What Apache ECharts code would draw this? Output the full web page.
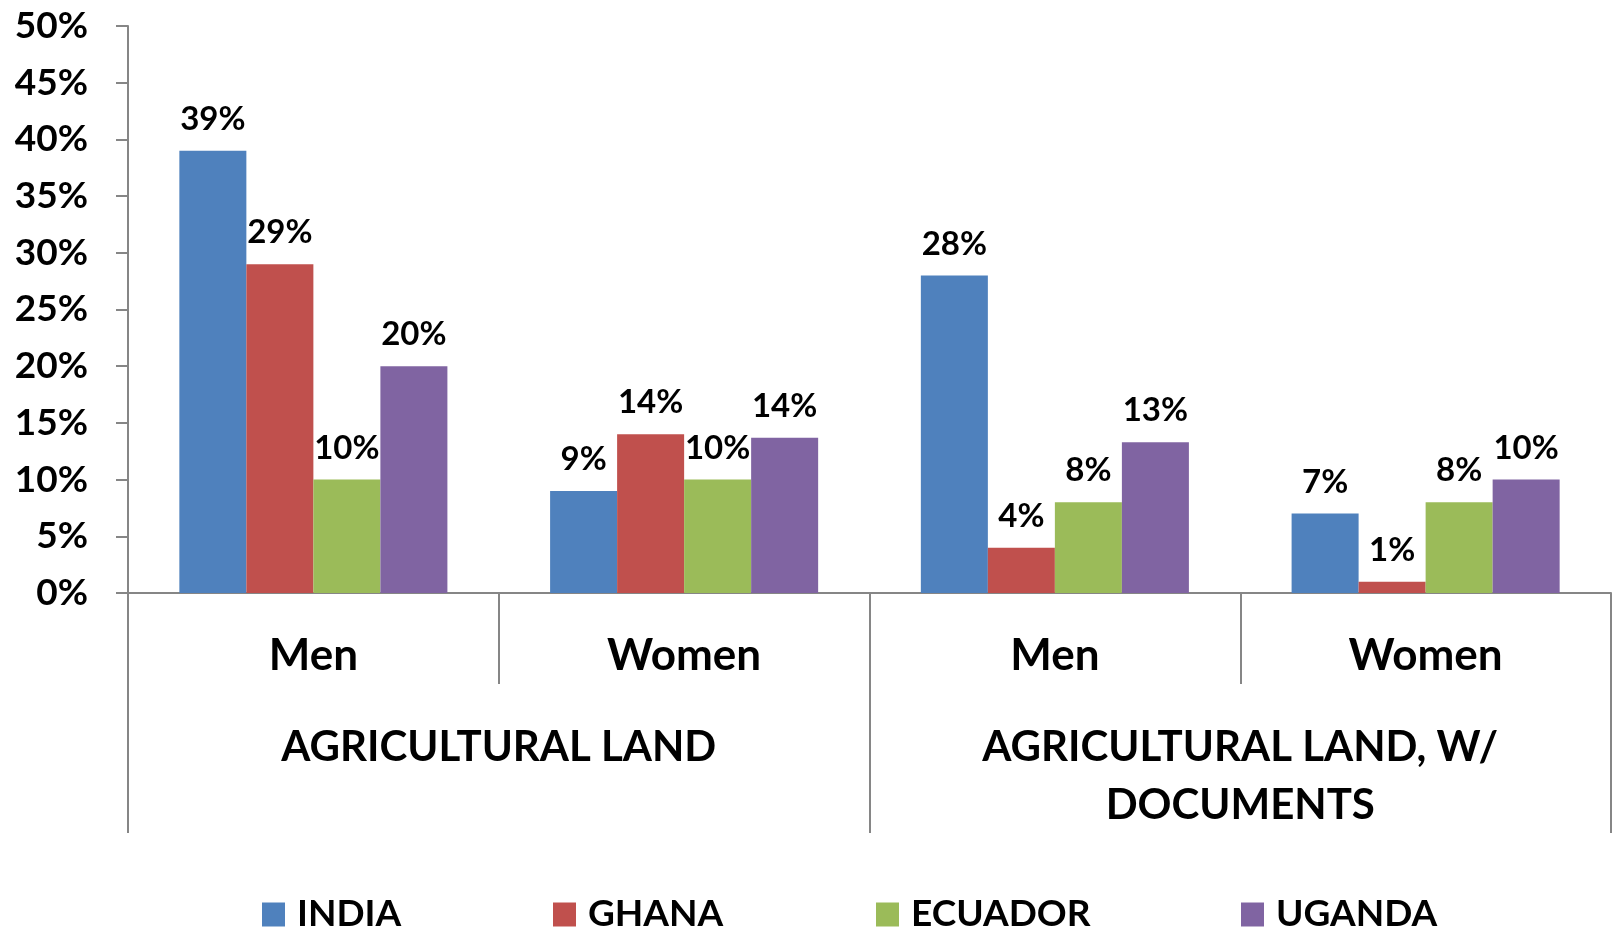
<!DOCTYPE html>
<html>
<head>
<meta charset="utf-8">
<script src="https://cdn.jsdelivr.net/npm/echarts@6/dist/echarts.min.js"></script>
<style>
  html, body { margin: 0; padding: 0; background: #fff; }
  #chart { width: 1612px; height: 930px; }
</style>
</head>
<body>
<div id="chart"></div>
<script>
// 数据
const subCategories = ['Men', 'Women', 'Men', 'Women']
const groupCategories = ['AGRICULTURAL LAND', 'AGRICULTURAL LAND, W/\nDOCUMENTS']
const india = [39, 9, 28, 7]
const ghana = [29, 14, 4, 1]
const ecuador = [10, 10, 8, 8]
const uganda = [20, 13.7, 13.3, 10]
const yTicks = [0, 5, 10, 15, 20, 25, 30, 35, 40, 45, 50]

const FONT = 'Lato'
const AXIS_COLOR = '#868686'

const seriesList = [
  {name: 'INDIA', data: india, color: '#4F81BD'},
  {name: 'GHANA', data: ghana, color: '#C0504D'},
  {name: 'ECUADOR', data: ecuador, color: '#9BBB59'},
  {name: 'UGANDA', data: uganda, color: '#8064A2'},
]
const legendLefts = [257, 548, 871, 1236]

const myChart = echarts.init(document.getElementById('chart'))

const option = {
  animation: false,
  textStyle: {fontFamily: FONT},
  grid: {
    left: 128,
    right: 1,
    top: 26,
    bottom: 337,
  },
  legend: seriesList.map((s, i) => ({
    data: [s.name],
    left: legendLefts[i],
    top: 891,
    itemWidth: 23,
    itemHeight: 24,
    icon: 'rect',
    textStyle: {
      fontFamily: FONT,
      fontWeight: 'bold',
      fontSize: 37,
      color: '#000',
      padding: [0, 0, 0, 7],
    },
  })),
  xAxis: [
    {
      type: 'category',
      data: subCategories,
      position: 'bottom',
      axisLine: {show: true, lineStyle: {color: AXIS_COLOR, width: 2}},
      axisTick: {show: true, length: 91, interval: 0, lineStyle: {color: AXIS_COLOR, width: 2}},
      axisLabel: {
        interval: 0,
        margin: 41,
        color: '#000',
        fontFamily: FONT,
        fontWeight: 'bold',
        fontSize: 44,
      },
    },
    {
      type: 'category',
      data: groupCategories,
      position: 'bottom',
      axisLine: {show: false},
      axisTick: {show: true, length: 240, interval: 0, lineStyle: {color: AXIS_COLOR, width: 2}},
      axisLabel: {
        interval: 0,
        margin: 125,
        color: '#000',
        fontFamily: FONT,
        fontWeight: 'bold',
        fontSize: 42,
        lineHeight: 58,
      },
    },
  ],
  yAxis: {
    type: 'value',
    min: 0,
    max: 50,
    interval: 5,
    splitLine: {show: false},
    axisLine: {show: true, lineStyle: {color: AXIS_COLOR, width: 2}},
    axisTick: {show: true, length: 12, lineStyle: {color: AXIS_COLOR, width: 2}},
    axisLabel: {
      margin: 40,
      color: '#000',
      fontFamily: FONT,
      fontWeight: 'bold',
      fontSize: 37,
      formatter: (v) => yTicks.includes(v) ? v + '%' : '',
    },
  },
  series: seriesList.map(s => ({
    name: s.name,
    type: 'bar',
    xAxisIndex: 0,
    data: s.data,
    barGap: '0%',
    barCategoryGap: '27.7%',
    itemStyle: {color: s.color},
    label: {
      show: true,
      position: 'top',
      distance: 15,
      color: '#000',
      fontFamily: FONT,
      fontWeight: 'bold',
      fontSize: 33,
      formatter: (p) => Math.round(p.value) + '%',
    },
  })),
}

option && myChart.setOption(option)
</script>
</body>
</html>
